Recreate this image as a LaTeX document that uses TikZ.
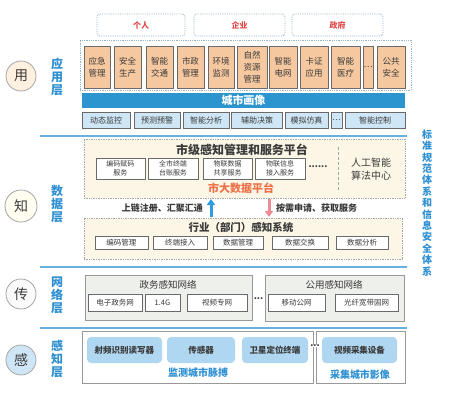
\documentclass[tikz,border=0pt]{standalone}
\usepackage{fontspec}
\setmainfont{Noto Sans CJK SC}
\usetikzlibrary{arrows.meta}
\definecolor{appfill}{HTML}{F6C8A0}
\definecolor{bordgray}{HTML}{6A6A6A}
\definecolor{dotblue}{HTML}{9DB4C4}
\definecolor{barblue}{HTML}{2C95D0}
\definecolor{lightblue}{HTML}{CFE6F6}
\definecolor{sepblue}{HTML}{6AB0DC}
\definecolor{beige}{HTML}{FBF6E6}
\definecolor{netfill}{HTML}{EEF0EB}
\definecolor{senfill}{HTML}{B0D7F1}
\definecolor{txtblue}{HTML}{2E90D2}
\definecolor{txtorange}{HTML}{F07048}
\definecolor{txtred}{HTML}{E04848}
\definecolor{txtdark}{HTML}{3A3A3A}
\definecolor{arrblue}{HTML}{2F9BE0}
\definecolor{arrpink}{HTML}{EE8A94}
\tikzset{
  userbox/.style={draw=dotblue, densely dotted, line width=0.8pt, rounded corners=3pt, fill=white, minimum height=22pt, inner sep=0pt, text=txtred, font=\fontsize{8}{9}\selectfont\bfseries},
  appbox/.style={draw=bordgray, line width=0.6pt, fill=appfill, minimum height=42pt, inner sep=0pt, align=center, text=txtdark, font=\fontsize{8.5}{12}\selectfont},
  funcbox/.style={draw=bordgray, line width=0.6pt, fill=lightblue, minimum height=16pt, inner sep=0pt, text=txtdark, font=\fontsize{8}{9}\selectfont},
  platbox/.style={draw=gray!70, densely dotted, line width=0.7pt, fill=beige, inner sep=0pt},
  svcbox/.style={draw=bordgray, line width=0.6pt, fill=white, minimum height=21pt, inner sep=0pt, align=center, text=txtdark, font=\fontsize{7}{9}\selectfont},
  sysbox/.style={draw=bordgray, line width=0.6pt, fill=white, minimum height=13pt, inner sep=0pt, text=txtdark, font=\fontsize{7.5}{9}\selectfont},
  netbox/.style={draw=gray!80, line width=0.7pt, fill=netfill, inner sep=0pt},
  netsub/.style={draw=bordgray, line width=0.6pt, fill=white, minimum height=17pt, inner sep=0pt, text=txtdark, font=\fontsize{7.5}{9}\selectfont},
  senbox/.style={draw=gray!80, line width=0.7pt, fill=white, inner sep=0pt},
  sensub/.style={fill=senfill, rounded corners=4pt, minimum height=26pt, inner sep=0pt, text=txtdark, font=\fontsize{8.5}{10}\selectfont\bfseries},
  layercirc/.style={circle, draw=gray!70, line width=0.8pt, minimum size=30pt, inner sep=0pt, text=txtdark, font=\fontsize{14}{14}\selectfont},
  layerlab/.style={align=center, text=txtblue, font=\fontsize{12}{13}\selectfont\bfseries, inner sep=0pt},
  seprule/.style={draw=sepblue, line width=1.4pt},
  ttl/.style={text=txtdark, inner sep=0pt},
  dots/.style={text=txtdark, inner sep=0pt, font=\fontsize{8}{9}\selectfont\bfseries}
}
\begin{document}
\begin{tikzpicture}[x=1pt,y=-1pt]
\useasboundingbox[fill=white] (0,0) rectangle (459,410);

% ---------- users
\node[userbox, minimum width=88pt] (u1) at (141,25) {个人};
\node[userbox, minimum width=91pt] (u2) at (239.5,25) {企业};
\node[userbox, minimum width=91pt] (u3) at (337.5,25) {政府};

% ---------- application layer
\node[draw=dotblue, densely dotted, line width=0.8pt, minimum width=331pt, minimum height=50pt, inner sep=0pt] (appframe) at (245.5,65) {};
\node[appbox, minimum width=26pt] (a1) at (97,67) {应急\\管理};
\node[appbox, minimum width=27pt] (a2) at (127.5,67) {安全\\生产};
\node[appbox, minimum width=27pt] (a3) at (159.5,67) {智能\\交通};
\node[appbox, minimum width=27pt] (a4) at (190.5,67) {市政\\管理};
\node[appbox, minimum width=26pt] (a5) at (221,67) {环境\\监测};
\node[appbox, minimum width=30pt] (a6) at (252,67) {自然\\资源\\管理};
\node[appbox, minimum width=28pt] (a7) at (283,67) {智能\\电网};
\node[appbox, minimum width=28pt] (a8) at (314,67) {卡证\\应用};
\node[appbox, minimum width=29pt] (a9) at (345.5,67) {智能\\医疗};
\node[appbox, minimum width=10pt] (a10) at (368,67) {…};
\node[appbox, minimum width=28pt] (a11) at (391,67) {公共\\安全};

\node[fill=barblue, minimum width=323pt, minimum height=15pt, inner sep=0pt, text=white, font=\fontsize{11}{12}\selectfont\bfseries] (bar) at (243.5,100.5) {城市画像};

\node[funcbox, minimum width=48pt] (f1) at (106,120) {动态监控};
\node[funcbox, minimum width=46pt] (f2) at (157,120) {预测预警};
\node[funcbox, minimum width=46pt] (f3) at (206,120) {智能分析};
\node[funcbox, minimum width=51pt] (f4) at (257,120) {辅助决策};
\node[funcbox, minimum width=43pt] (f5) at (306.5,120) {模拟仿真};
\node[funcbox, minimum width=11pt] (f6) at (336.5,120) {…};
\node[funcbox, minimum width=60pt] (f7) at (375,120) {智能控制};

\coordinate (s1a) at (40,136); \coordinate (s1b) at (407,136);
\draw[seprule] (s1a) -- (s1b);

% ---------- data layer
\node[platbox, minimum width=321pt, minimum height=59pt] (plat) at (244.5,168.5) {};
\node[ttl, font=\fontsize{12}{13}\selectfont\bfseries] (platttl) at (242,150) {市级感知管理和服务平台};
\node[svcbox, minimum width=49pt] (v1) at (120.5,168.5) {编码赋码\\服务};
\node[svcbox, minimum width=50pt] (v2) at (173,168.5) {全市终端\\台账服务};
\node[svcbox, minimum width=49pt] (v3) at (227.5,168.5) {物联数据\\共享服务};
\node[svcbox, minimum width=50pt] (v4) at (280,168.5) {物联信息\\接入服务};
\node[ttl, font=\fontsize{9}{9}\selectfont\bfseries] (vdots) at (318,167) {......};
\coordinate (dla) at (338,147); \coordinate (dlb) at (338,192);
\draw[gray!70, densely dashed, line width=0.6pt] (dla) -- (dlb);
\node[ttl, align=center, font=\fontsize{10}{12.5}\selectfont] (ai) at (371,169) {人工智能\\算法中心};
\node[ttl, text=txtorange, font=\fontsize{11}{12}\selectfont\bfseries] (bigdata) at (241,188) {市大数据平台};

\node[platbox, minimum width=318pt, minimum height=41pt] (sys) at (243,238.5) {};
\node[ttl, font=\fontsize{10.5}{12}\selectfont\bfseries] (systtl) at (241,227) {行业（部门）感知系统};
\node[sysbox, minimum width=53pt] (y1) at (121.5,243) {编码管理};
\node[sysbox, minimum width=54pt] (y2) at (180,243) {终端接入};
\node[sysbox, minimum width=50pt] (y3) at (238,243) {数据管理};
\node[sysbox, minimum width=56pt] (y4) at (300,243) {数据交换};
\node[sysbox, minimum width=52pt] (y5) at (362,243) {数据分析};

\coordinate (upb) at (211,217); \coordinate (upt) at (211,199);
\coordinate (dnt) at (269,199); \coordinate (dnb) at (269,217);
\draw[arrblue, line width=3pt, -{Triangle[width=8pt,length=6pt]}] (upb) -- (upt);
\draw[arrpink, line width=3pt, -{Triangle[width=8pt,length=6pt]}] (dnt) -- (dnb);
\node[ttl, anchor=east, font=\fontsize{9}{10}\selectfont\bfseries] (uptxt) at (203,208) {上链注册、汇聚汇通};
\node[ttl, anchor=west, font=\fontsize{9}{10}\selectfont\bfseries] (dntxt) at (276,208) {按需申请、获取服务};

\coordinate (s2a) at (40,267); \coordinate (s2b) at (407,267);
\draw[seprule] (s2a) -- (s2b);

% ---------- network layer
\node[netbox, minimum width=167pt, minimum height=45pt] (gov) at (168.5,297.5) {};
\node[ttl, font=\fontsize{9.5}{11}\selectfont] (govttl) at (168,285) {政务感知网络};
\node[netsub, minimum width=54pt] (n1) at (115,302.5) {电子政务网};
\node[netsub, minimum width=35pt] (n2) at (162.5,302.5) {1.4G};
\node[netsub, minimum width=60pt] (n3) at (217,302.5) {视频专网};
\node[ttl, font=\fontsize{9}{9}\selectfont\bfseries] (ndots) at (258.5,299) {...};
\node[netbox, minimum width=139pt, minimum height=46pt] (pub) at (334.5,298) {};
\node[ttl, font=\fontsize{9.5}{11}\selectfont] (pubttl) at (334,285) {公用感知网络};
\node[netsub, minimum width=57pt] (n4) at (296.5,303) {移动公网};
\node[netsub, minimum width=63pt] (n5) at (366.5,303) {光纤宽带固网};

\coordinate (s3a) at (40,328); \coordinate (s3b) at (407,328);
\draw[seprule] (s3a) -- (s3b);

% ---------- sensing layer
\node[senbox, minimum width=231pt, minimum height=52pt] (sen1) at (197.5,357) {};
\node[senbox, minimum width=89pt, minimum height=52pt] (sen2) at (360.5,357) {};
\node[sensub, minimum width=75pt] (e1) at (124.5,350) {射频识别读写器};
\node[sensub, minimum width=68pt] (e2) at (201,350) {传感器};
\node[sensub, minimum width=66pt] (e3) at (275,350) {卫星定位终端};
\node[ttl, fill=white, font=\fontsize{9}{9}\selectfont\bfseries] (edots) at (315,346) {...};
\node[sensub, minimum width=75pt] (e4) at (359.5,350) {视频采集设备};
\node[ttl, text=txtblue, font=\fontsize{10}{11}\selectfont\bfseries] (m1) at (198,373) {监测城市脉搏};
\node[ttl, text=txtblue, font=\fontsize{10}{11}\selectfont\bfseries] (m2) at (360,375) {采集城市影像};

% ---------- left labels
\node[layercirc, fill=orange!12] (c1) at (21,76) {用};
\node[layerlab] (l1) at (57,77) {应\\用\\层};
\node[layercirc, fill=yellow!6, minimum size=32pt] (c2) at (21,206) {知};
\node[layerlab] (l2) at (57,204) {数\\据\\层};
\node[layercirc, fill=gray!4] (c3) at (21,294) {传};
\node[layerlab] (l3) at (57,295) {网\\络\\层};
\node[layercirc, fill=lightblue] (c4) at (21,360) {感};
\node[layerlab] (l4) at (57,359) {感\\知\\层};

% ---------- right label
\node[align=center, text=txtblue, font=\fontsize{10}{11.4}\selectfont\bfseries, inner sep=0pt] (std) at (427,203) {标\\准\\规\\范\\体\\系\\和\\信\\息\\安\\全\\体\\系};
\end{tikzpicture}
\end{document}
